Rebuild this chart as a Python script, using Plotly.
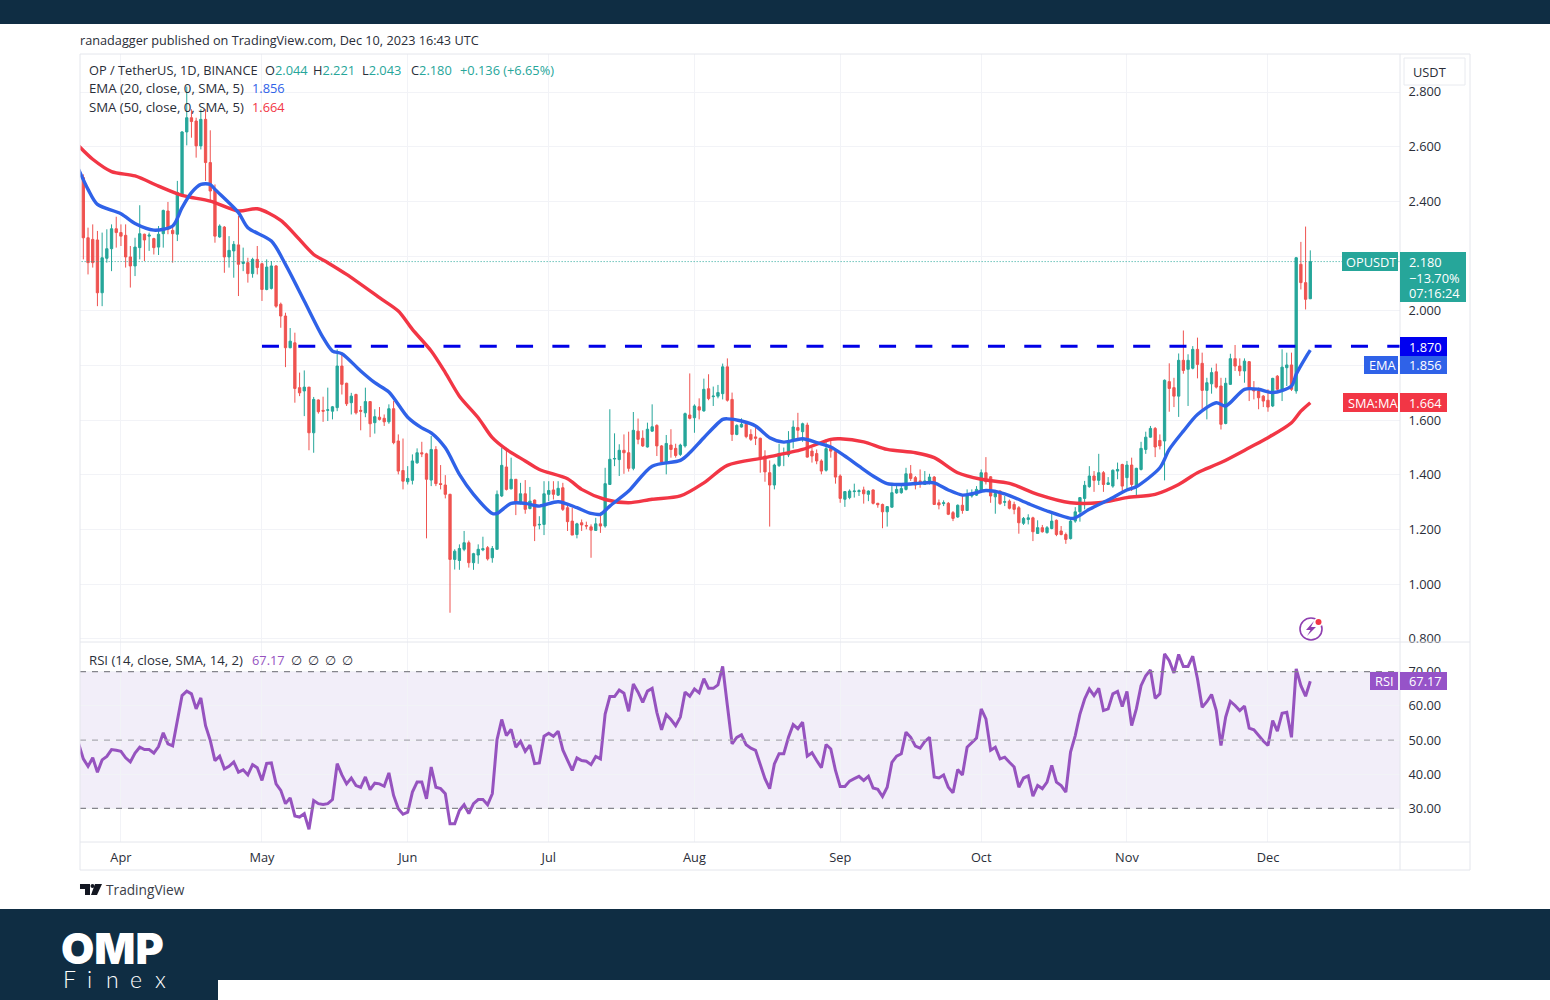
import pandas as pd
import plotly.graph_objects as go
from plotly.subplots import make_subplots

W, H = 1550, 1000

opens = [2.487, 2.267, 2.261, 2.259, 2.066, 2.192, 2.227, 2.300,
         2.286, 2.276, 2.197, 2.164, 2.231, 2.280, 2.273, 2.264, 2.233, 2.282,
         2.365, 2.294, 2.280, 2.426, 2.654, 2.706, 2.694, 2.603, 2.700, 2.542,
         2.444, 2.270, 2.306, 2.197, 2.219, 2.241, 2.173, 2.176, 2.136, 2.188,
         2.172, 2.078, 2.082, 2.164, 2.024, 1.981, 1.865, 1.883, 1.719, 1.707,
         1.721, 1.554, 1.674, 1.636, 1.636, 1.633, 1.646, 1.798, 1.735, 1.664,
         1.694, 1.636, 1.627, 1.668, 1.591, 1.611, 1.607, 1.594, 1.642, 1.524,
         1.416, 1.375, 1.380, 1.444, 1.481, 1.477, 1.381, 1.493, 1.368, 1.363,
         1.329, 1.091, 1.087, 1.128, 1.152, 1.079, 1.107, 1.126, 1.134, 1.097,
         1.128, 1.323, 1.429, 1.349, 1.384, 1.301, 1.331, 1.277, 1.308, 1.217,
         1.219, 1.329, 1.345, 1.326, 1.353, 1.280, 1.231, 1.182, 1.225, 1.215,
         1.210, 1.197, 1.221, 1.213, 1.365, 1.458, 1.456, 1.490, 1.481, 1.424,
         1.560, 1.534, 1.502, 1.560, 1.581, 1.506, 1.448, 1.509, 1.497, 1.475,
         1.506, 1.619, 1.609, 1.649, 1.634, 1.715, 1.686, 1.688, 1.697, 1.795,
         1.676, 1.548, 1.575, 1.585, 1.548, 1.539, 1.534, 1.469, 1.408, 1.363,
         1.434, 1.475, 1.473, 1.524, 1.573, 1.558, 1.582, 1.487, 1.478, 1.451,
         1.417, 1.497, 1.485, 1.396, 1.311, 1.317, 1.339, 1.339, 1.345, 1.329,
         1.345, 1.296, 1.292, 1.265, 1.282, 1.334, 1.335, 1.347, 1.404, 1.390,
         1.378, 1.365, 1.371, 1.392, 1.298, 1.295, 1.296, 1.262, 1.246, 1.289,
         1.270, 1.323, 1.326, 1.343, 1.408, 1.393, 1.320, 1.341, 1.300, 1.304,
         1.292, 1.280, 1.223, 1.237, 1.243, 1.186, 1.207, 1.189, 1.204, 1.234,
         1.195, 1.182, 1.167, 1.231, 1.265, 1.314, 1.357, 1.396, 1.380, 1.408,
         1.365, 1.359, 1.414, 1.438, 1.390, 1.436, 1.357, 1.420, 1.493, 1.538,
         1.570, 1.526, 1.524, 1.741, 1.719, 1.688, 1.819, 1.786, 1.790, 1.859,
         1.808, 1.709, 1.733, 1.777, 1.725, 1.588, 1.731, 1.825, 1.798, 1.780,
         1.814, 1.713, 1.707, 1.688, 1.673, 1.652, 1.761, 1.713, 1.792, 1.802,
         1.707, 2.170, 2.103, 2.044]

highs = [2.499, 2.304, 2.316, 2.292, 2.286, 2.298, 2.316, 2.344,
         2.316, 2.316, 2.237, 2.267, 2.386, 2.282, 2.286, 2.267, 2.310, 2.370,
         2.398, 2.316, 2.475, 2.657, 2.820, 2.737, 2.706, 2.737, 2.737, 2.660,
         2.462, 2.316, 2.310, 2.273, 2.255, 2.347, 2.231, 2.194, 2.194, 2.237,
         2.176, 2.188, 2.182, 2.167, 2.030, 1.993, 1.937, 1.920, 1.774, 1.782,
         1.721, 1.685, 1.676, 1.686, 1.719, 1.652, 1.859, 1.847, 1.737, 1.700,
         1.697, 1.652, 1.719, 1.670, 1.640, 1.648, 1.621, 1.658, 1.670, 1.548,
         1.533, 1.432, 1.475, 1.497, 1.521, 1.481, 1.542, 1.505, 1.436, 1.399,
         1.331, 1.128, 1.146, 1.195, 1.160, 1.115, 1.146, 1.174, 1.140, 1.140,
         1.343, 1.499, 1.499, 1.463, 1.384, 1.371, 1.381, 1.356, 1.310, 1.249,
         1.377, 1.377, 1.377, 1.377, 1.371, 1.290, 1.280, 1.225, 1.237, 1.229,
         1.219, 1.243, 1.262, 1.426, 1.640, 1.552, 1.512, 1.548, 1.558, 1.630,
         1.606, 1.563, 1.591, 1.658, 1.585, 1.509, 1.546, 1.567, 1.514, 1.514,
         1.628, 1.771, 1.658, 1.680, 1.752, 1.768, 1.723, 1.729, 1.807, 1.826,
         1.701, 1.585, 1.607, 1.595, 1.567, 1.575, 1.536, 1.490, 1.453, 1.441,
         1.514, 1.500, 1.560, 1.599, 1.627, 1.591, 1.591, 1.500, 1.493, 1.457,
         1.530, 1.524, 1.487, 1.402, 1.341, 1.347, 1.368, 1.347, 1.357, 1.343,
         1.347, 1.298, 1.295, 1.286, 1.371, 1.365, 1.368, 1.426, 1.436, 1.396,
         1.420, 1.414, 1.404, 1.396, 1.310, 1.307, 1.301, 1.268, 1.292, 1.323,
         1.347, 1.347, 1.359, 1.420, 1.465, 1.396, 1.345, 1.343, 1.323, 1.310,
         1.302, 1.286, 1.246, 1.256, 1.247, 1.234, 1.217, 1.213, 1.258, 1.237,
         1.213, 1.189, 1.235, 1.282, 1.317, 1.378, 1.432, 1.414, 1.477, 1.414,
         1.392, 1.420, 1.445, 1.441, 1.451, 1.463, 1.426, 1.521, 1.558, 1.579,
         1.575, 1.548, 1.749, 1.808, 1.755, 1.844, 1.928, 1.841, 1.871, 1.902,
         1.847, 1.755, 1.792, 1.807, 1.755, 1.755, 1.843, 1.875, 1.826, 1.826,
         1.816, 1.743, 1.719, 1.692, 1.713, 1.755, 1.765, 1.859, 1.847, 1.847,
         2.197, 2.252, 2.308, 2.221]

lows = [2.188, 2.133, 2.158, 2.017, 2.017, 2.176, 2.145, 2.231,
        2.237, 2.158, 2.085, 2.127, 2.188, 2.182, 2.219, 2.206, 2.204, 2.231,
        2.280, 2.176, 2.255, 2.426, 2.605, 2.633, 2.560, 2.590, 2.475, 2.401,
        2.249, 2.267, 2.139, 2.158, 2.121, 2.054, 2.145, 2.103, 2.121, 2.133,
        2.036, 2.075, 2.078, 2.011, 1.938, 1.794, 1.863, 1.664, 1.688, 1.615,
        1.490, 1.481, 1.624, 1.594, 1.597, 1.603, 1.633, 1.694, 1.652, 1.621,
        1.621, 1.563, 1.611, 1.538, 1.551, 1.599, 1.579, 1.587, 1.512, 1.402,
        1.347, 1.365, 1.365, 1.441, 1.465, 1.168, 1.359, 1.359, 1.347, 1.314,
        0.896, 1.054, 1.053, 1.121, 1.061, 1.053, 1.075, 1.121, 1.087, 1.079,
        1.128, 1.319, 1.343, 1.347, 1.253, 1.292, 1.258, 1.274, 1.158, 1.201,
        1.180, 1.304, 1.310, 1.323, 1.268, 1.195, 1.180, 1.168, 1.195, 1.201,
        1.097, 1.195, 1.188, 1.207, 1.363, 1.432, 1.396, 1.404, 1.412, 1.417,
        1.512, 1.502, 1.500, 1.558, 1.469, 1.445, 1.402, 1.463, 1.463, 1.469,
        1.500, 1.603, 1.554, 1.603, 1.631, 1.673, 1.652, 1.680, 1.676, 1.668,
        1.524, 1.545, 1.573, 1.534, 1.524, 1.509, 1.408, 1.375, 1.211, 1.347,
        1.429, 1.432, 1.465, 1.497, 1.530, 1.521, 1.463, 1.445, 1.439, 1.402,
        1.412, 1.463, 1.368, 1.298, 1.283, 1.311, 1.317, 1.323, 1.295, 1.304,
        1.292, 1.280, 1.205, 1.211, 1.280, 1.331, 1.331, 1.343, 1.378, 1.347,
        1.353, 1.363, 1.365, 1.290, 1.274, 1.286, 1.253, 1.231, 1.243, 1.258,
        1.268, 1.317, 1.323, 1.341, 1.365, 1.298, 1.258, 1.290, 1.286, 1.274,
        1.256, 1.185, 1.217, 1.219, 1.158, 1.185, 1.189, 1.185, 1.201, 1.176,
        1.179, 1.148, 1.164, 1.225, 1.229, 1.274, 1.353, 1.338, 1.363, 1.338,
        1.363, 1.353, 1.384, 1.338, 1.347, 1.341, 1.323, 1.416, 1.477, 1.536,
        1.465, 1.493, 1.380, 1.631, 1.648, 1.612, 1.770, 1.652, 1.786, 1.753,
        1.640, 1.603, 1.697, 1.716, 1.566, 1.585, 1.729, 1.780, 1.762, 1.737,
        1.670, 1.676, 1.640, 1.648, 1.631, 1.648, 1.701, 1.670, 1.725, 1.707,
        1.697, 2.078, 2.005, 2.043]

closes = [2.267, 2.176, 2.176, 2.066, 2.194, 2.227, 2.300, 2.286,
          2.273, 2.197, 2.164, 2.233, 2.282, 2.259, 2.277, 2.231, 2.280, 2.367,
          2.298, 2.282, 2.432, 2.654, 2.706, 2.692, 2.603, 2.700, 2.542, 2.438,
          2.273, 2.310, 2.197, 2.221, 2.243, 2.170, 2.178, 2.136, 2.188, 2.158,
          2.078, 2.160, 2.164, 2.017, 1.981, 1.865, 1.889, 1.716, 1.700, 1.721,
          1.554, 1.676, 1.631, 1.633, 1.638, 1.649, 1.798, 1.731, 1.660, 1.688,
          1.627, 1.633, 1.668, 1.587, 1.613, 1.603, 1.594, 1.642, 1.518, 1.414,
          1.377, 1.387, 1.451, 1.481, 1.477, 1.384, 1.493, 1.368, 1.365, 1.329,
          1.091, 1.121, 1.131, 1.152, 1.079, 1.112, 1.128, 1.130, 1.093, 1.131,
          1.329, 1.435, 1.347, 1.384, 1.298, 1.331, 1.274, 1.304, 1.213, 1.219,
          1.331, 1.343, 1.329, 1.351, 1.274, 1.229, 1.180, 1.221, 1.217, 1.213,
          1.198, 1.221, 1.213, 1.368, 1.457, 1.460, 1.490, 1.481, 1.424, 1.563,
          1.530, 1.506, 1.567, 1.576, 1.506, 1.447, 1.515, 1.493, 1.471, 1.509,
          1.624, 1.607, 1.652, 1.637, 1.713, 1.679, 1.688, 1.701, 1.795, 1.673,
          1.548, 1.581, 1.585, 1.540, 1.530, 1.534, 1.461, 1.411, 1.363, 1.436,
          1.478, 1.478, 1.521, 1.575, 1.563, 1.587, 1.465, 1.469, 1.451, 1.414,
          1.496, 1.487, 1.392, 1.314, 1.339, 1.341, 1.341, 1.342, 1.331, 1.341,
          1.296, 1.291, 1.265, 1.284, 1.335, 1.347, 1.350, 1.404, 1.387, 1.363,
          1.375, 1.378, 1.392, 1.292, 1.290, 1.298, 1.256, 1.241, 1.289, 1.270,
          1.323, 1.331, 1.347, 1.408, 1.375, 1.323, 1.332, 1.295, 1.302, 1.278,
          1.274, 1.225, 1.241, 1.243, 1.192, 1.207, 1.192, 1.207, 1.231, 1.182,
          1.182, 1.164, 1.231, 1.265, 1.317, 1.362, 1.396, 1.380, 1.408, 1.365,
          1.371, 1.417, 1.420, 1.359, 1.436, 1.365, 1.424, 1.497, 1.538, 1.570,
          1.502, 1.506, 1.746, 1.716, 1.688, 1.819, 1.782, 1.819, 1.859, 1.804,
          1.709, 1.737, 1.774, 1.721, 1.585, 1.735, 1.825, 1.798, 1.780, 1.816,
          1.713, 1.707, 1.682, 1.670, 1.648, 1.753, 1.713, 1.794, 1.802, 1.713,
          2.194, 2.103, 2.042, 2.180]

# days counted from 1 Apr 2023
ema_days = [-9, -7, -5, 0, 3, 7, 11, 13, 15, 17, 19, 20, 25, 27, 32, 35, 39, 43, 45, 47, 51, 54, 57,
            61, 64, 66, 69, 72, 75, 79, 80, 83, 86, 89, 93, 97, 100, 102, 104, 108, 113, 119, 121, 124,
            128, 129, 132, 135, 138, 141, 145, 148, 151, 154, 157, 160, 163, 166, 171, 173, 176, 179,
            181, 184, 188, 193, 197, 202, 203, 206, 210, 214, 216, 221, 223, 226, 229, 233, 235, 239,
            242, 245, 249, 250, 252, 253]
ema_values = [2.517, 2.444, 2.389, 2.355, 2.319, 2.295, 2.310, 2.377, 2.432, 2.462, 2.462, 2.444, 2.359,
              2.304, 2.255, 2.170, 2.036, 1.902, 1.853, 1.843, 1.780, 1.737, 1.703,
              1.611, 1.572, 1.554, 1.499, 1.402, 1.329, 1.259, 1.259, 1.296, 1.296, 1.286, 1.302, 1.280,
              1.259, 1.256, 1.286, 1.341, 1.432, 1.453, 1.481, 1.536,
              1.603, 1.605, 1.597, 1.579, 1.536, 1.520, 1.532, 1.518, 1.502, 1.469, 1.432, 1.396, 1.368,
              1.365, 1.371, 1.371, 1.345, 1.326,
              1.331, 1.343, 1.331, 1.295, 1.268, 1.241, 1.243, 1.274, 1.308, 1.345, 1.357, 1.426, 1.493,
              1.560, 1.621, 1.664, 1.652, 1.713,
              1.713, 1.701, 1.725, 1.768, 1.829, 1.856]

sma_days = [-9, -6, -2, 3, 8, 13, 19, 25, 29, 34, 41, 44, 48, 55, 59, 62, 66, 69, 72, 76, 79, 82, 86,
            89, 95, 98, 103, 108, 113, 119, 124, 129, 137, 145, 151, 153, 158, 163, 169, 173, 178, 183,
            189, 195, 202, 208, 214, 220, 225, 229, 234, 240, 244, 249, 251, 253]
sma_values = [2.603, 2.554, 2.509, 2.493, 2.456, 2.422, 2.401, 2.365, 2.373, 2.331, 2.206, 2.176, 2.133,
              2.048, 1.999, 1.932, 1.853, 1.774, 1.688, 1.609, 1.536, 1.493, 1.451,
              1.420, 1.386, 1.347, 1.310, 1.298, 1.311, 1.323, 1.371, 1.435, 1.463, 1.493, 1.530, 1.532,
              1.521, 1.493, 1.481, 1.463, 1.408, 1.384,
              1.369, 1.329, 1.298, 1.298, 1.317, 1.329, 1.365, 1.408, 1.445, 1.499, 1.536, 1.591, 1.633,
              1.664]

rsi_values = [48.9, 44.5, 42.3, 44.8, 40.6, 44.2, 45.2, 47.2, 47.0,
              46.7, 44.8, 43.6, 46.2, 47.9, 47.2, 47.2, 46.2, 48.1, 52.1,
              48.9, 48.3, 56.2, 63.0, 64.3, 63.5, 59.1, 62.3, 54.2, 49.9,
              44.0, 45.3, 41.6, 42.3, 43.6, 40.6, 41.3, 39.8, 42.8, 41.9,
              38.2, 43.2, 43.3, 37.2, 35.3, 31.4, 33.1, 27.8, 27.5, 28.5,
              23.9, 32.3, 31.4, 31.2, 31.4, 32.6, 43.1, 39.8, 37.2, 38.9,
              36.7, 36.2, 39.2, 35.5, 37.4, 37.2, 36.5, 40.4, 33.8, 29.9,
              28.3, 28.9, 34.8, 37.7, 37.7, 32.8, 42.1, 36.2, 35.8, 34.3,
              25.5, 25.5, 29.4, 31.1, 28.5, 31.4, 32.6, 32.6, 31.1, 34.3,
              50.1, 56.0, 51.3, 53.1, 47.9, 49.6, 46.7, 48.5, 43.1, 43.3,
              51.1, 52.0, 51.1, 52.6, 47.1, 44.2, 41.1, 44.8, 44.0, 43.8,
              42.8, 45.2, 44.5, 57.6, 62.7, 62.7, 64.6, 63.7, 58.4, 66.4,
              64.0, 61.0, 64.3, 65.1, 58.1, 53.0, 57.4, 56.0, 54.2, 56.7,
              64.0, 62.8, 64.9, 63.8, 67.9, 65.1, 65.1, 66.1, 71.5, 60.1,
              48.9, 50.8, 51.5, 48.6, 47.6, 47.0, 42.8, 38.7, 35.8, 43.0,
              46.0, 46.0, 50.8, 54.5, 53.3, 55.2, 45.3, 46.3, 44.0, 41.9,
              48.7, 47.4, 41.1, 36.4, 36.4, 38.0, 38.7, 39.4, 38.2, 39.4,
              36.0, 35.6, 33.5, 36.2, 43.5, 45.3, 46.0, 52.3, 50.8, 48.2,
              47.6, 49.6, 50.8, 39.2, 38.9, 39.8, 36.2, 34.6, 41.4, 39.8,
              47.9, 49.4, 50.6, 59.1, 56.2, 47.0, 47.9, 44.5, 45.0, 43.5,
              42.1, 36.2, 38.9, 39.5, 33.6, 36.7, 35.8, 37.7, 42.6, 37.7,
              36.7, 34.8, 46.5, 51.3, 57.6, 62.0, 64.9, 63.0, 65.1, 58.6,
              59.1, 63.5, 64.2, 59.8, 64.2, 54.2, 59.1, 65.9, 68.8, 70.5,
              62.2, 63.5, 75.2, 73.2, 69.6, 75.0, 71.5, 71.5, 74.5, 67.9,
              59.6, 61.2, 63.3, 58.6, 48.4, 56.7, 61.3, 60.1, 58.6, 59.9,
              53.5, 53.0, 51.3, 49.7, 48.4, 55.7, 52.6, 57.8, 58.1, 50.8,
              70.8, 65.9, 62.8, 67.17]

price_ticks = [0.8, 1.0, 1.2, 1.4, 1.6, 1.8, 2.0, 2.2, 2.4, 2.6, 2.8]
rsi_ticks = [30, 40, 50, 60, 70]
month_ticks = ["2023-04-01", "2023-05-01", "2023-06-01", "2023-07-01", "2023-08-01",
               "2023-09-01", "2023-10-01", "2023-11-01", "2023-12-01"]
month_labels = ["Apr", "May", "Jun", "Jul", "Aug", "Sep", "Oct", "Nov", "Dec"]
resistance = [1.87, 1.87]
resistance_dates = ["2023-05-01", "2023-12-29 02:00"]

UP = "#26a69a"
DOWN = "#ef5350"
EMA_BLUE = "#2f62e8"
SMA_RED = "#f23645"
RSI_PURPLE = "#9653bf"
NAVY = "#0f2d43"
GRID = "#f2f3f7"
FRAME = "#e4e6ec"
INK = "#2a2e39"
FONT = "Open Sans"
TEXT_SIZE = 12.8

start = pd.Timestamp("2023-04-01")
dates = pd.date_range("2023-03-24", periods=len(closes))
rsi_dates = pd.date_range("2023-03-23", periods=len(rsi_values))
ema_dates = [start + pd.Timedelta(days=d) for d in ema_days]
sma_dates = [start + pd.Timedelta(days=d) for d in sma_days]


def px(x):
    return x / W


def py(y):
    return 1 - y / H


def box(x0, y0, x1, y1, fill, line=None, layer="above"):
    return dict(type="rect", xref="paper", yref="paper", layer=layer,
                x0=px(x0), x1=px(x1), y0=py(y0), y1=py(y1), fillcolor=fill,
                line=dict(color=line or fill, width=1 if line else 0))


def rule(x0, y0, x1, y1, color=FRAME, width=1):
    return dict(type="line", xref="paper", yref="paper", layer="above",
                x0=px(x0), x1=px(x1), y0=py(y0), y1=py(y1),
                line=dict(color=color, width=width))


def poly(points, fill):
    d = "M " + " L ".join(f"{px(x):.5f},{py(y):.5f}" for x, y in points) + " Z"
    return dict(type="path", xref="paper", yref="paper", layer="above", path=d,
                fillcolor=fill, line=dict(width=0))


def text(x, y, s, size=TEXT_SIZE, color=INK, anchor="left", **font):
    return dict(xref="paper", yref="paper", x=px(x), y=py(y), text=s, showarrow=False,
                xanchor=anchor, yanchor="middle", borderpad=0,
                font=dict(family=font.pop("family", FONT), size=size, color=color, **font))


fig = make_subplots(rows=2, cols=1, shared_xaxes=True, vertical_spacing=0)

fig.add_trace(go.Scatter(x=[rsi_dates[0], "2023-12-29 02:00"], y=[closes[-1], closes[-1]], mode="lines",
                         line=dict(color=UP, width=1, dash="1px,2px"), hoverinfo="skip"), row=1, col=1)
fig.add_trace(go.Candlestick(x=dates, open=opens, high=highs, low=lows, close=closes, whiskerwidth=0,
                             increasing=dict(line=dict(color=UP, width=1), fillcolor=UP),
                             decreasing=dict(line=dict(color=DOWN, width=1), fillcolor=DOWN),
                             hoverinfo="skip"), row=1, col=1)
fig.add_trace(go.Scatter(x=sma_dates, y=sma_values, mode="lines",
                         line=dict(color=SMA_RED, width=3.4, shape="spline", smoothing=0.8),
                         hoverinfo="skip"), row=1, col=1)
fig.add_trace(go.Scatter(x=ema_dates, y=ema_values, mode="lines",
                         line=dict(color=EMA_BLUE, width=3.4, shape="spline", smoothing=0.8),
                         hoverinfo="skip"), row=1, col=1)
fig.add_trace(go.Scatter(x=resistance_dates, y=resistance, mode="lines",
                         line=dict(color="#0000e6", width=3, dash="17px,19.3px"), hoverinfo="skip"),
              row=1, col=1)
fig.add_trace(go.Scatter(x=rsi_dates, y=rsi_values, mode="lines", line=dict(color=RSI_PURPLE, width=3),
                         hoverinfo="skip"), row=2, col=1)

axis_font = dict(family=FONT, size=TEXT_SIZE, color=INK)
x_range = ["2023-03-23 07:00", "2023-12-29 02:00"]
fig.update_xaxes(type="date", range=x_range, tickmode="array", tickvals=month_ticks, ticktext=month_labels,
                 showgrid=True, gridcolor=GRID, gridwidth=1, zeroline=False, showline=False,
                 ticks="outside", ticklen=4, tickcolor="rgba(0,0,0,0)",
                 rangeslider_visible=False, tickfont=axis_font)
fig.update_yaxes(side="right", showgrid=True, gridcolor=GRID, gridwidth=1, zeroline=False, showline=False,
                 ticks="outside", ticklen=5, tickcolor="rgba(0,0,0,0)", tickfont=axis_font)
fig.update_yaxes(range=[0.789, 2.939], tickvals=price_ticks, tickformat=".3f", row=1, col=1)
fig.update_yaxes(range=[20.2, 78.65], tickvals=rsi_ticks, tickformat=".2f", row=2, col=1)

shapes = [
    dict(type="rect", xref="x2", yref="y2", layer="below", x0=x_range[0], x1=x_range[1], y0=30, y1=70,
         fillcolor="rgba(126,87,194,0.10)", line=dict(width=0)),
]
for level, shade in [(30, "#85858c"), (50, "#aaa9b2"), (70, "#85858c")]:
    shapes.append(dict(type="line", xref="x2", yref="y2", layer="above", x0=x_range[0], x1=x_range[1],
                       y0=level, y1=level, line=dict(color=shade, width=1.2, dash="6px,6px")))

shapes += [
    # frame of the chart panes
    rule(80, 54, 1470, 54), rule(80, 54, 80, 870), rule(80, 870, 1470, 870), rule(1470, 54, 1470, 870),
    rule(1400, 54, 1400, 870), rule(80, 642, 1470, 642), rule(80, 842, 1470, 842),
    # page bands
    box(0, 0, W, 24, NAVY), box(0, 909, W, H, NAVY), box(218, 980, W, H, "#ffffff"),
    # currency button hides the top of the scale
    box(1401, 55, 1469, 87, "#ffffff"), box(1404, 58, 1465, 85, "#ffffff", line="#e8eaef"),
    # price tags
    box(1342, 252, 1398, 271, UP), box(1400, 252, 1466, 302, UP),
    box(1400, 337, 1447, 356, "#0000f0"),
    box(1364, 356, 1398, 374, EMA_BLUE), box(1400, 356, 1447, 374, EMA_BLUE),
    box(1343, 393, 1398, 412, SMA_RED), box(1400, 393, 1447, 412, SMA_RED),
    box(1370, 672, 1398, 690, "#9653c8"), box(1400, 672, 1447, 690, "#9653c8"),
    # TradingView mark
    poly([(80, 884), (90, 884), (90, 895), (85, 895), (85, 889), (80, 889)], "#131722"),
    poly([(95, 884), (102, 884), (97, 895), (91, 895)], "#131722"),
    dict(type="circle", xref="paper", yref="paper", layer="above", x0=px(90.5), x1=px(94.5), y0=py(888),
         y1=py(884), fillcolor="#131722", line=dict(width=0)),
    # news flash icon
    dict(type="circle", xref="paper", yref="paper", layer="above", x0=px(1300), x1=px(1322), y0=py(640),
         y1=py(618), fillcolor="rgba(0,0,0,0)", line=dict(color="#8e3fb0", width=1.6)),
    poly([(1314, 621), (1306, 630), (1310.5, 630), (1307, 636), (1316, 627), (1311, 627)], "#8e3fb0"),
    dict(type="circle", xref="paper", yref="paper", layer="above", x0=px(1314), x1=px(1323), y0=py(626.5),
         y1=py(617.5), fillcolor="#ffffff", line=dict(width=0)),
    dict(type="circle", xref="paper", yref="paper", layer="above", x0=px(1315.5), x1=px(1321.5), y0=py(625),
         y1=py(619), fillcolor="#f23645", line=dict(width=0)),
]

annotations = [
    text(79, 40, "ranadagger published on TradingView.com, Dec 10, 2023 16:43 UTC", size=12.7),
    text(88, 70, "OP / TetherUS, 1D, BINANCE", size=12.8),
    text(88, 88, "EMA (20, close, 0, SMA, 5)", size=13.2),
    text(88, 107, "SMA (50, close, 0, SMA, 5)", size=13.2),
    text(251, 88, "1.856", color=EMA_BLUE),
    text(251, 107, "1.664", color=SMA_RED),
    text(88, 660, "RSI (14, close, SMA, 14, 2)", size=13.2),
    text(251, 660, "67.17", color=RSI_PURPLE),
    text(1429, 72, "USDT", anchor="center"),
    text(1345, 262, "OPUSDT", color="#ffffff"),
    text(1408, 262, "2.180", color="#ffffff"),
    text(1408, 278, "\u221213.70%", color="#ffffff"),
    text(1408, 293, "07:16:24", color="#ffffff"),
    text(1408, 347, "1.870", color="#ffffff"),
    text(1368, 365, "EMA", color="#ffffff"),
    text(1408, 365, "1.856", color="#ffffff"),
    text(1347, 403, "SMA:MA", color="#ffffff"),
    text(1408, 403, "1.664", color="#ffffff"),
    text(1374, 681, "RSI", color="#ffffff"),
    text(1408, 681, "67.17", color="#ffffff"),
    text(105, 889.5, "TradingView", size=13.7, color="#3a3e49"),
    text(60, 948, "OMP", size=43, color="#ffffff", family="Inter", weight=900),
]
for x, label, value in [(264, "O", "2.044"), (312, "H", "2.221"), (361, "L", "2.043"), (410, "C", "2.180")]:
    annotations.append(text(x, 70, f'{label}<span style="color:{UP}">{value}</span>'))
annotations.append(text(459, 70, "+0.136 (+6.65%)", color=UP))
for x in [296, 313, 330, 347]:
    annotations.append(text(x, 660, "\u2205", family="DejaVu Sans", anchor="center"))
for x, letter in [(62, "F"), (86, "i"), (105, "n"), (129, "e"), (154, "x")]:
    annotations.append(text(x, 979, letter, size=23, color="#ffffff", family="Lato", weight=300))

fig.update_layout(width=W, height=H, margin=dict(l=0, r=0, t=0, b=0, autoexpand=False), paper_bgcolor="#ffffff",
                  plot_bgcolor="#ffffff", showlegend=False, shapes=shapes, annotations=annotations,
                  xaxis=dict(domain=[px(80), px(1400)]), xaxis2=dict(domain=[px(80), px(1400)]),
                  yaxis=dict(domain=[py(642), py(54)]), yaxis2=dict(domain=[py(842), py(642)]))

# the page's default body margin would shift the whole figure
fig.write_html("out.html", config=dict(displayModeBar=False), post_script="document.body.style.margin = '0';")
